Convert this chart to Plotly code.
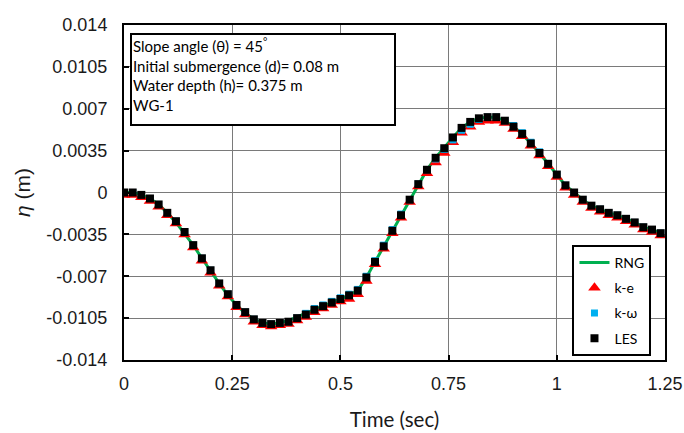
import plotly.graph_objects as go

time_s = [0.00, 0.02, 0.04, 0.06, 0.08, 0.10, 0.12, 0.14, 0.16, 0.18,
          0.20, 0.22, 0.24, 0.26, 0.28, 0.30, 0.32, 0.34, 0.36, 0.38,
          0.40, 0.42, 0.44, 0.46, 0.48, 0.50, 0.52, 0.54, 0.56, 0.58,
          0.60, 0.62, 0.64, 0.66, 0.68, 0.70, 0.72, 0.74, 0.76, 0.78,
          0.80, 0.82, 0.84, 0.86, 0.88, 0.90, 0.92, 0.94, 0.96, 0.98,
          1.00, 1.02, 1.04, 1.06, 1.08, 1.10, 1.12, 1.14, 1.16, 1.18,
          1.20, 1.22, 1.24]

les = [0.0000, 0.0000, -0.0002, -0.0005, -0.0010, -0.0017, -0.0024, -0.0033, -0.0044, -0.0055,
       -0.0065, -0.0076, -0.0085, -0.0094, -0.0100, -0.0106, -0.0109, -0.0110, -0.0109, -0.0108,
       -0.0105, -0.0102, -0.0098, -0.0095, -0.0092, -0.0089, -0.0086, -0.0082, -0.0071, -0.0058,
       -0.0045, -0.0032, -0.0019, -0.0006, 0.0007, 0.0019, 0.0029, 0.0037, 0.0046, 0.0054,
       0.0059, 0.0062, 0.0063, 0.0063, 0.0060, 0.0055, 0.0049, 0.0041, 0.0033, 0.0024,
       0.0015, 0.0006, 0.0000, -0.0006, -0.0011, -0.0014, -0.0017, -0.0019, -0.0022, -0.0025,
       -0.0029, -0.0031, -0.0034]

k_e = [-0.0002, -0.0002, -0.0004, -0.0007, -0.0012, -0.0019, -0.0026, -0.0035, -0.0046, -0.0057,
       -0.0067, -0.0078, -0.0087, -0.0096, -0.0102, -0.0108, -0.0111, -0.0112, -0.0111, -0.0110,
       -0.0107, -0.0104, -0.0100, -0.0097, -0.0094, -0.0091, -0.0089, -0.0085, -0.0074, -0.0060,
       -0.0047, -0.0034, -0.0021, -0.0008, 0.0005, 0.0016, 0.0025, 0.0033, 0.0042, 0.0050,
       0.0055, 0.0059, 0.0060, 0.0060, 0.0058, 0.0053, 0.0047, 0.0039, 0.0031, 0.0022,
       0.0013, 0.0004, -0.0002, -0.0008, -0.0013, -0.0016, -0.0019, -0.0021, -0.0024, -0.0027,
       -0.0031, -0.0033, -0.0036]

k_w = [0.0000, 0.0000, -0.0002, -0.0005, -0.0010, -0.0017, -0.0024, -0.0033, -0.0044, -0.0055,
       -0.0065, -0.0076, -0.0085, -0.0094, -0.0100, -0.0106, -0.0109, -0.0110, -0.0109, -0.0108,
       -0.0105, -0.0101, -0.0097, -0.0094, -0.0091, -0.0088, -0.0085, -0.0081, -0.0070, -0.0057,
       -0.0044, -0.0031, -0.0018, -0.0006, 0.0007, 0.0019, 0.0028, 0.0036, 0.0044, 0.0052,
       0.0057, 0.0061, 0.0063, 0.0063, 0.0060, 0.0056, 0.0050, 0.0042, 0.0034, 0.0024,
       0.0015, 0.0006, 0.0000, -0.0006, -0.0011, -0.0014, -0.0017, -0.0019, -0.0022, -0.0025,
       -0.0029, -0.0031, -0.0034]

rng = [0.0000, 0.0000, -0.0002, -0.0005, -0.0010, -0.0017, -0.0025, -0.0034, -0.0044, -0.0055,
       -0.0066, -0.0076, -0.0086, -0.0094, -0.0101, -0.0106, -0.0109, -0.0110, -0.0109, -0.0107,
       -0.0104, -0.0101, -0.0098, -0.0095, -0.0092, -0.0089, -0.0086, -0.0082, -0.0071, -0.0058,
       -0.0045, -0.0032, -0.0019, -0.0006, 0.0007, 0.0019, 0.0029, 0.0038, 0.0046, 0.0054,
       0.0059, 0.0062, 0.0063, 0.0063, 0.0060, 0.0055, 0.0049, 0.0041, 0.0033, 0.0024,
       0.0015, 0.0006, 0.0000, -0.0006, -0.0011, -0.0014, -0.0017, -0.0019, -0.0022, -0.0025,
       -0.0029, -0.0031, -0.0034]

y_tickvals = [0.014, 0.0105, 0.007, 0.0035, 0, -0.0035, -0.007, -0.0105, -0.014]
y_ticktext = ["0.014", "0.0105", "0.007", "0.0035", "0", "-0.0035", "-0.007", "-0.0105", "-0.014"]
x_tickvals = [0, 0.25, 0.5, 0.75, 1, 1.25]
x_ticktext = ["0", "0.25", "0.5", "0.75", "1", "1.25"]

info_lines = ["Slope angle (θ) = 45<sup>°</sup>",
              "Initial submergence (d)= 0.08 m",
              "Water depth (h)= 0.375 m",
              "WG-1"]

fig = go.Figure()
fig.add_trace(go.Scatter(x=time_s, y=rng, mode="lines", name="RNG",
                         line=dict(color="#00B050", width=3), legendgroup="a"))
fig.add_trace(go.Scatter(x=time_s, y=k_e, mode="markers", name="k-e",
                         marker=dict(symbol="triangle-up", color="#FF0000", size=11), legendgroup="b"))
fig.add_trace(go.Scatter(x=time_s, y=k_w, mode="markers", name="k-ω",
                         marker=dict(symbol="square", color="#00B0F0", size=7), legendgroup="c"))
fig.add_trace(go.Scatter(x=time_s, y=les, mode="markers", name="LES",
                         marker=dict(symbol="square", color="#000000", size=8), legendgroup="d"))

axis_common = dict(showline=True, linecolor="black", linewidth=2, mirror=True,
                   showgrid=True, gridcolor="#7A7A7A", gridwidth=1, zeroline=False,
                   ticks="inside", ticklen=5, tickwidth=2, tickcolor="black",
                   ticklabeloverflow="allow",
                   tickfont=dict(family="Liberation Sans, Arial", size=18, color="#1a1a1a"))

fig.update_xaxes(range=[0, 1.25], tickmode="array", tickvals=x_tickvals, ticktext=x_ticktext,
                 ticklabelstandoff=6,
                 title=dict(text="Time (sec)", font=dict(family="Lato", size=20.5, color="#1a1a1a"),
                            standoff=20),
                 **axis_common)
fig.update_yaxes(range=[-0.014, 0.014], tickmode="array", tickvals=y_tickvals, ticktext=y_ticktext,
                 ticklabelstandoff=11,
                 title=dict(text="<i>η</i> (m)", font=dict(family="Liberation Sans, Arial", size=21, color="#1a1a1a"),
                            standoff=10),
                 **axis_common)

fig.add_annotation(xref="paper", yref="paper", x=0.011, y=0.976, xanchor="left", yanchor="top",
                   text="<br>".join(info_lines), showarrow=False, align="left",
                   font=dict(family="Lato", size=15, color="#000"),
                   bordercolor="black", borderwidth=2, bgcolor="white",
                   width=260, height=87, valign="top", borderpad=1)

fig.update_layout(
    width=684, height=433,
    margin=dict(l=124, r=19, t=25, b=73, autoexpand=False),
    plot_bgcolor="white", paper_bgcolor="white",
    legend=dict(x=0.975, y=0.012, xanchor="right", yanchor="bottom",
                bordercolor="black", borderwidth=2, bgcolor="white",
                font=dict(family="Lato", size=14, color="#000"),
                traceorder="grouped", tracegroupgap=4, itemwidth=30),
    showlegend=True,
)

fig.write_html("out.html", config={"displayModeBar": False},
               post_script="document.body.style.margin='0';document.body.style.overflow='hidden';")
